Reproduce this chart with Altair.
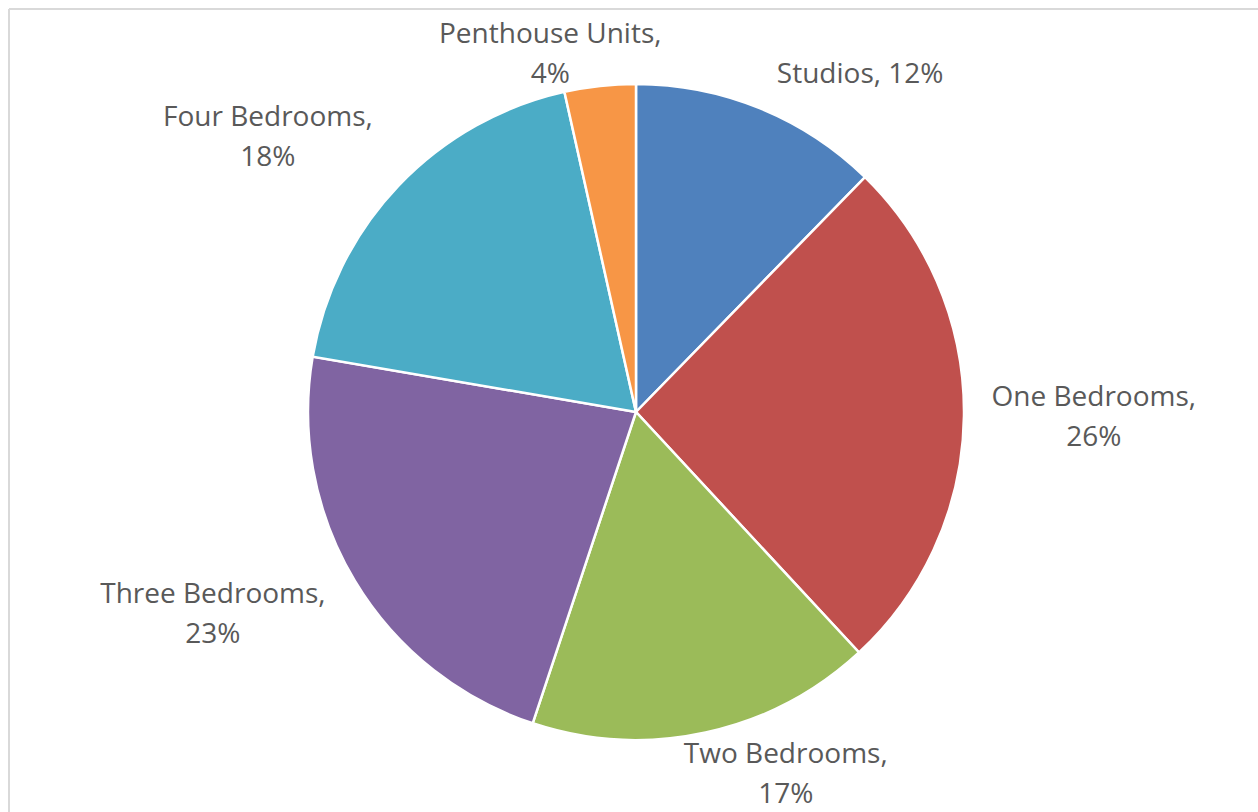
import altair as alt
import pandas as pd

categories = ["Studios", "One Bedrooms", "Two Bedrooms", "Three Bedrooms", "Four Bedrooms", "Penthouse Units"]
values = [12.3, 25.8, 17.0, 22.6, 18.8, 3.5]
pct_labels = ["12%", "26%", "17%", "23%", "18%", "4%"]
colors = ["#4F81BD", "#C0504D", "#9BBB59", "#8064A2", "#4BACC6", "#F79646"]

# label layout: anchor of the first text line (degrees clockwise from 12 o'clock, px from centre)
label_angle = [33.6, 88.25, 156.4, 246.6, 308.6, 347.2]
label_radius = [405, 458, 374, 461, 471, 387]
label_text = [
    "Studios, 12%",
    "One Bedrooms,\n26%",
    "Two Bedrooms,\n17%",
    "Three Bedrooms,\n23%",
    "Four Bedrooms,\n18%",
    "Penthouse Units,\n4%",
]

df = pd.DataFrame({
    "category": categories,
    "value": values,
    "order": list(range(len(categories))),
    "pct": pct_labels,
})
lab = pd.DataFrame({
    "category": categories,
    "angle": label_angle,
    "r": label_radius,
    "text": label_text,
})

color_scale = alt.Scale(domain=categories, range=colors)

pie = alt.Chart(df).mark_arc(outerRadius=328, stroke="white", strokeWidth=2.5).encode(
    theta=alt.Theta("value:Q", stack=True),
    color=alt.Color("category:N", scale=color_scale, legend=None),
    order=alt.Order("order:Q"),
)

labels = alt.Chart(lab).mark_text(
    font="Open Sans", fontSize=28, color="#595959", lineBreak="\n", lineHeight=40,
    align="center", baseline="middle",
).encode(
    theta=alt.Theta("angle:Q", stack=False, scale=alt.Scale(domain=[0, 360], range=[0, 6.283185307])),
    radius=alt.Radius("r:Q", scale=alt.Scale(type="linear", domain=[0, 500], range=[0, 500], zero=True)),
    text="text:N",
)

frame_top = alt.Chart(df).mark_rule(color="#d9d9d9", strokeWidth=2).encode(
    x=alt.value(-5), x2=alt.value(1260), y=alt.value(-3)
)
frame_left = alt.Chart(df).mark_rule(color="#d9d9d9", strokeWidth=2).encode(
    x=alt.value(-5), y=alt.value(-3), y2=alt.value(820)
)

chart = alt.layer(frame_top, frame_left, pie, labels).resolve_scale(theta="independent", radius="independent").properties(
    width=1244, height=800,
    padding={"left": 14, "top": 12, "right": 0, "bottom": 0},
    autosize=alt.AutoSizeParams(type="none"),
    background="white",
).configure_view(stroke=None)

chart.save("out.html", embed_options={"renderer": "svg", "actions": False})
